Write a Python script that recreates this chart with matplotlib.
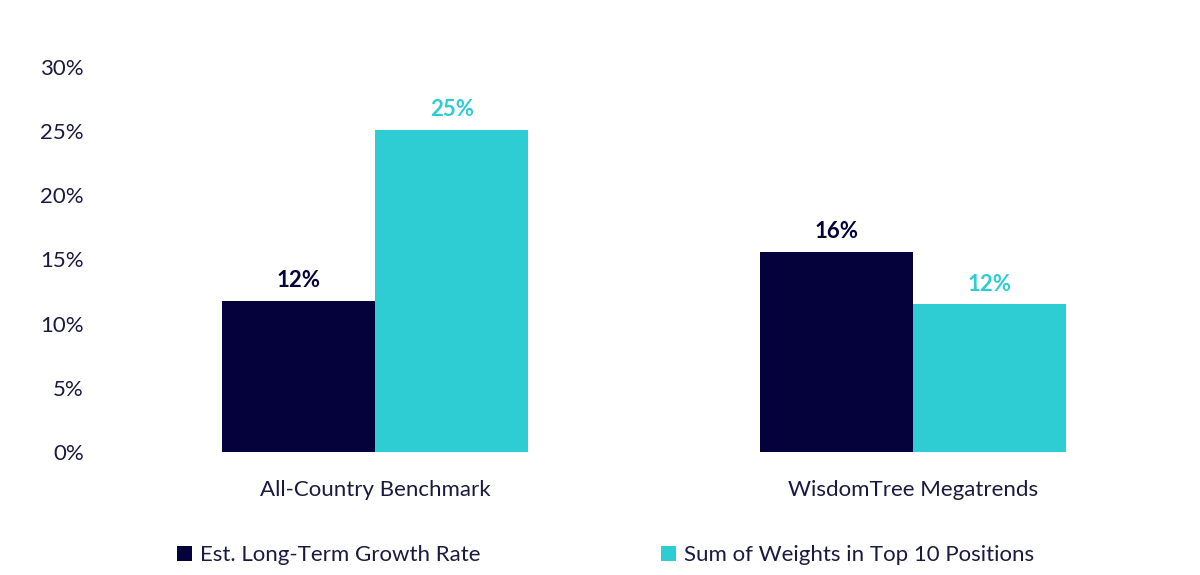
import matplotlib
matplotlib.use("Agg")
import matplotlib.pyplot as plt
import numpy as np

categories = ["All-Country Benchmark", "WisdomTree Megatrends"]
series_names = ["Est. Long-Term Growth Rate", "Sum of Weights in Top 10 Positions"]
growth = [11.8, 15.6]
weights = [25.1, 11.5]
growth_labels = ["12%", "16%"]
weights_labels = ["25%", "12%"]
yticks = [0, 5, 10, 15, 20, 25, 30]

navy = "#05013A"
cyan = "#2ECDD4"
text_col = "#1A1A40"

plt.rcParams['font.family'] = ['Lato', 'DejaVu Sans']
FS = 16

fig = plt.figure(figsize=(12, 5.75), dpi=100)
ax = fig.add_axes([0.0883, 0.2139, 0.8967, 0.6696])

x = np.arange(len(categories))
w = 0.285
b1 = ax.bar(x - w / 2, growth, w, color=navy, label=series_names[0])
b2 = ax.bar(x + w / 2, weights, w, color=cyan, label=series_names[1])

for rect, lab in zip(b1, growth_labels):
    ax.annotate(lab, (rect.get_x() + rect.get_width() / 2, rect.get_height()),
                xytext=(0, 7), textcoords="offset points", ha="center", va="bottom",
                fontsize=FS, fontweight="bold", color=navy)
for rect, lab in zip(b2, weights_labels):
    ax.annotate(lab, (rect.get_x() + rect.get_width() / 2, rect.get_height()),
                xytext=(0, 7), textcoords="offset points", ha="center", va="bottom",
                fontsize=FS, fontweight="bold", color=cyan)

ax.set_xlim(-0.5, 1.5)
ax.set_ylim(0, 30)
ax.set_yticks(yticks)
ax.set_yticklabels([f"{t}%" for t in yticks], fontsize=FS, color=text_col)
ax.set_xticks(x)
ax.set_xticklabels(categories, fontsize=FS, color=text_col)
ax.tick_params(axis="both", length=0)
ax.tick_params(axis="y", pad=16)
ax.tick_params(axis="x", pad=20)
for s in ax.spines.values():
    s.set_visible(False)

leg = fig.legend(handles=[b1, b2], loc="center", bbox_to_anchor=(0.5046, 0.034),
                 ncol=2, frameon=False, fontsize=FS, handlelength=0.7, handleheight=0.7,
                 handletextpad=0.35, columnspacing=8.1)
for t in leg.get_texts():
    t.set_color(text_col)

fig.savefig("out.png", dpi=100)
